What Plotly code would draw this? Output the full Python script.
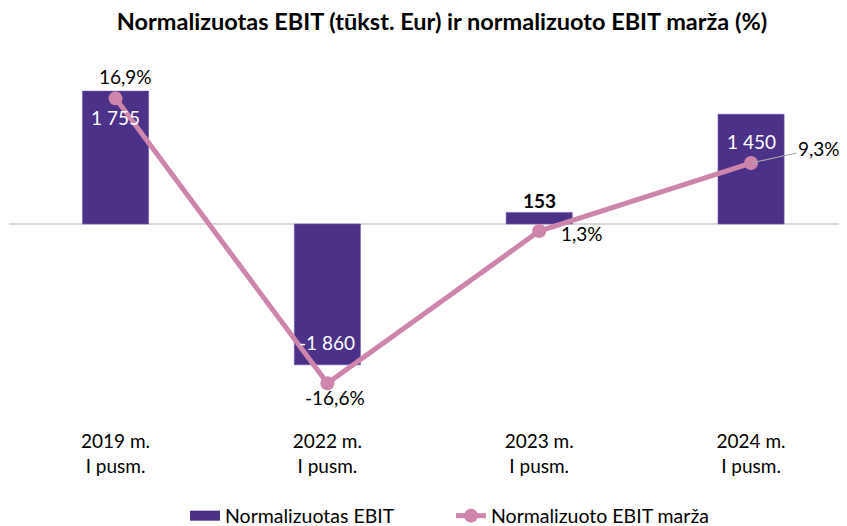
import plotly.graph_objects as go

categories = ["2019 m.<br>I pusm.", "2022 m.<br>I pusm.", "2023 m.<br>I pusm.", "2024 m.<br>I pusm."]
ebit = [1755, -1860, 153, 1450]
ebit_labels = ["1 755", "-1 860", "153", "1 450"]
margin = [16.9, -16.6, 1.3, 9.3]
margin_labels = ["16,9%", "-16,6%", "1,3%", "9,3%"]

BAR = "#4B3188"
LINE = "#CD85AB"
FONT = "Lato"

# page body has an 8px default margin; figure is sized to fit the window
W, H = 839, 518

fig = go.Figure()
fig.add_trace(go.Bar(
    x=categories, y=ebit, name="Normalizuotas EBIT",
    marker=dict(color=BAR, line=dict(color="#6B58A6", width=0.6)),
    width=0.312, yaxis="y", showlegend=False,
))
# legend entry for the bars, drawn as a wide swatch
fig.add_trace(go.Scatter(
    x=[None], y=[None], name="Normalizuotas EBIT", mode="lines",
    line=dict(color=BAR, width=12), yaxis="y", hoverinfo="skip",
))
fig.add_trace(go.Scatter(
    x=categories, y=margin, name="Normalizuoto EBIT marža",
    mode="lines+markers", line=dict(color=LINE, width=5),
    marker=dict(color=LINE, size=14), yaxis="y2",
))

annotations = []
bar_shift = [-26, 22, 12, -27]
bar_color = ["white", "white", "black", "white"]
for i, (c, v, t) in enumerate(zip(categories, ebit, ebit_labels)):
    annotations.append(dict(
        x=c, y=v, xref="x", yref="y", text=("<b>%s</b>" % t) if i == 2 else t,
        showarrow=False, yshift=bar_shift[i], xshift=0,
        font=dict(family=FONT, size=19, color=bar_color[i]),
    ))
shifts = [(10, 22), (8, -14), (43, -2)]
for i in range(3):
    annotations.append(dict(
        x=categories[i], y=margin[i], xref="x", yref="y2", text=margin_labels[i],
        showarrow=False, xshift=shifts[i][0], yshift=shifts[i][1],
        font=dict(family=FONT, size=19, color="black"),
    ))
annotations.append(dict(
    x=categories[3], y=margin[3], xref="x", yref="y2", text=margin_labels[3],
    showarrow=True, ax=68, ay=-15, arrowhead=0, arrowwidth=1.2, arrowcolor="#A6A6A6",
    standoff=0, startstandoff=0,
    font=dict(family=FONT, size=19, color="black"),
))

fig.update_layout(
    width=W, height=H,
    paper_bgcolor="white", plot_bgcolor="white",
    margin=dict(l=1, r=0, t=52, b=106),
    font=dict(family=FONT, size=19, color="black"),
    title=dict(text="<b>Normalizuotas EBIT (tūkst. Eur) ir normalizuoto EBIT marža (%)</b>",
               x=434 / W, xanchor="center", y=1 - 14 / H, yanchor="middle",
               font=dict(family=FONT, size=23.5, color="black")),
    xaxis=dict(range=[-0.503, 3.453], showgrid=False, showline=False, ticks="",
               ticklabelstandoff=8,
               tickfont=dict(family=FONT, size=19, color="black")),
    yaxis=dict(range=[-2589, 2166], showgrid=False, showticklabels=False,
               zeroline=True, zerolinecolor="#D9D9D9", zerolinewidth=1.5),
    yaxis2=dict(range=[-20.91, 21.41], overlaying="y", side="right", showgrid=False,
                showticklabels=False, zeroline=False),
    legend=dict(orientation="h", xref="container", yref="container",
                x=443 / W, xanchor="center", y=10 / H, yanchor="middle",
                entrywidth=221, entrywidthmode="pixels",
                font=dict(family=FONT, size=19.5, color="black")),
    annotations=annotations,
    showlegend=True,
)

fig.write_html("out.html")
